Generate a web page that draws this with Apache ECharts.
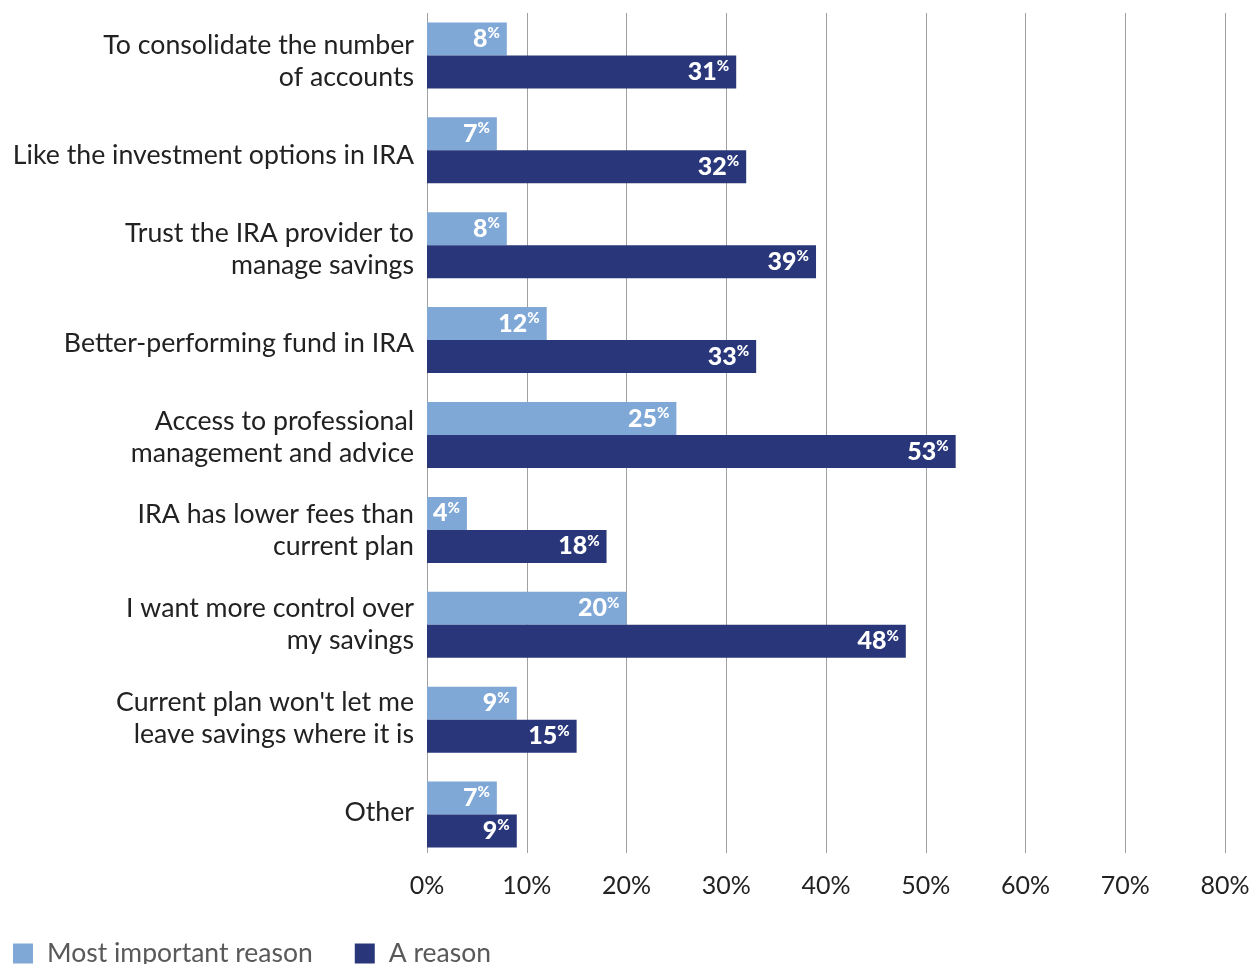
<!DOCTYPE html>
<html>
<head>
<meta charset="utf-8">
<script src="https://cdn.jsdelivr.net/npm/echarts@6/dist/echarts.min.js"></script>
<style>
  html, body { margin: 0; padding: 0; background: #fff; }
  #chart { width: 1260px; height: 964px; }
</style>
</head>
<body>
<div id="chart"></div>
<script>
// Reasons for rolling savings into an IRA (share of respondents, %)
const categories = [
  'To consolidate the number\nof accounts',
  'Like the investment options in IRA',
  'Trust the IRA provider to\nmanage savings',
  'Better-performing fund in IRA',
  'Access to professional\nmanagement and advice',
  'IRA has lower fees than\ncurrent plan',
  'I want more control over\nmy savings',
  "Current plan won't let me\nleave savings where it is",
  'Other'
];
const mostImportant = [8, 7, 8, 12, 25, 4, 20, 9, 7];
const aReason = [31, 32, 39, 33, 53, 18, 48, 15, 9];
const seriesNames = ['Most important reason', 'A reason'];
const xTicks = { min: 0, max: 80, step: 10 };

const FONT = 'Lato, "Noto Sans", sans-serif';
const LIGHT = '#7fa8d7';
const DARK = '#29377a';

const barLabel = {
  show: true,
  position: 'insideRight',
  distance: 7,
  formatter: p => '{n|' + p.value + '}{p|%}',
  rich: {
    n: { color: '#fff', fontFamily: FONT, fontWeight: 900, fontSize: 25, lineHeight: 26 },
    p: { color: '#fff', fontFamily: FONT, fontWeight: 900, fontSize: 15, lineHeight: 26, verticalAlign: 'top', padding: [0, 0, 9, 0] }
  }
};

const chart = echarts.init(document.getElementById('chart'), null, { renderer: 'canvas' });
chart.setOption({
  animation: false,
  backgroundColor: '#fff',
  textStyle: { fontFamily: FONT },
  grid: [
    // gridlines and percentage ticks
    { left: 427, right: 35, top: 13, bottom: 111 },
    // bars
    { left: 427, right: 35, top: 8, height: 854 },
    // category labels
    { left: 427, right: 35, top: 15, height: 844 }
  ],
  legend: {
    left: 13,
    top: 940,
    padding: 0,
    itemWidth: 20,
    itemHeight: 20,
    itemGap: 42,
    icon: 'rect',
    textStyle: { fontFamily: FONT, fontSize: 26.5, color: '#595959', padding: [0, 0, 0, 9] },
    data: seriesNames
  },
  xAxis: [
    {
      gridIndex: 0,
      type: 'value',
      min: xTicks.min,
      max: xTicks.max,
      interval: xTicks.step,
      axisLine: { show: false },
      axisTick: { show: false },
      splitLine: { show: true, lineStyle: { color: '#a0a0a0', width: 1 } },
      axisLabel: { formatter: '{value}%', color: '#222', fontFamily: FONT, fontSize: 25, margin: 20 }
    },
    { gridIndex: 1, type: 'value', min: xTicks.min, max: xTicks.max, show: false },
    { gridIndex: 2, type: 'value', min: xTicks.min, max: xTicks.max, show: false }
  ],
  yAxis: [
    { gridIndex: 0, type: 'value', show: false, min: 0, max: 1 },
    {
      gridIndex: 1,
      type: 'category',
      inverse: true,
      data: categories,
      show: false
    },
    {
      gridIndex: 2,
      type: 'category',
      inverse: true,
      data: categories,
      axisLine: { show: false },
      axisTick: { show: false },
      splitLine: { show: false },
      axisLabel: { color: '#222', fontFamily: FONT, fontSize: 26.7, lineHeight: 32, margin: 13, align: 'right' }
    }
  ],
  series: [
    {
      name: seriesNames[0],
      type: 'bar',
      xAxisIndex: 1,
      yAxisIndex: 1,
      data: mostImportant,
      barWidth: 33,
      barGap: '0%',
      itemStyle: { color: LIGHT },
      label: barLabel
    },
    {
      name: seriesNames[1],
      type: 'bar',
      xAxisIndex: 1,
      yAxisIndex: 1,
      data: aReason,
      barWidth: 33,
      barGap: '0%',
      itemStyle: { color: DARK },
      label: barLabel
    }
  ]
});
</script>
</body>
</html>
